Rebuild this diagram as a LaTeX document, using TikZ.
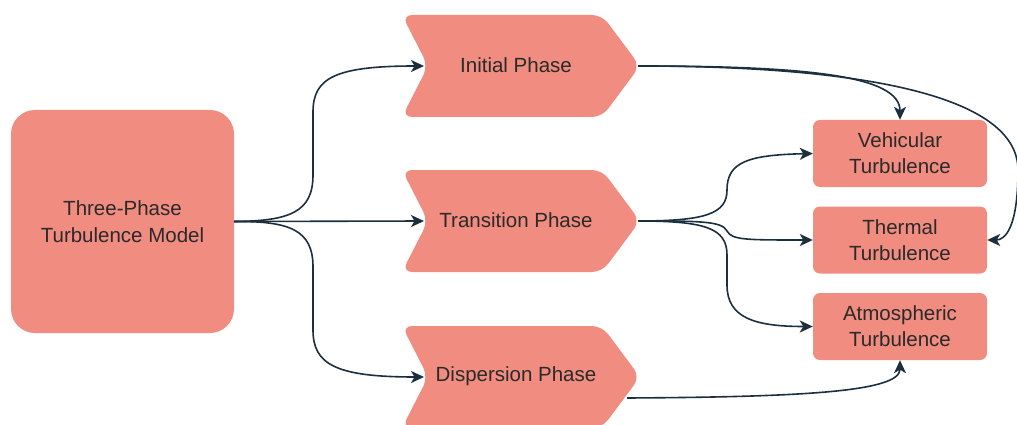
\documentclass[tikz,border=0pt]{standalone}
\usepackage{fontspec}
\setmainfont{Liberation Sans}
\usetikzlibrary{arrows.meta}
\definecolor{fillc}{HTML}{F08C80}
\definecolor{linec}{HTML}{1B2F3F}
\definecolor{textc}{HTML}{2A2A2A}
\tikzset{
  phase/.style={fill=fillc, draw=none, rounded corners=10pt},
  ptext/.style={text=textc, font=\fontsize{20.5}{26}\selectfont, inner sep=0pt},
  tbox/.style={fill=fillc, draw=none, rounded corners=7pt, minimum width=174pt, minimum height=67pt, align=center, text=textc, font=\fontsize{20.5}{26}\selectfont, inner sep=0pt},
  mbox/.style={fill=fillc, draw=none, rounded corners=24pt, minimum width=223pt, minimum height=223pt, align=center, text=textc, font=\fontsize{20.5}{27}\selectfont, inner sep=0pt},
  conn/.style={draw=linec, line width=1.6pt, -{Stealth[length=13pt,width=12pt,inset=3.5pt]}},
}
\begin{document}
\begin{tikzpicture}[x=1pt,y=-1pt]
\useasboundingbox (0,0) rectangle (1017,425);
% main box
\node[mbox] (main) at (122.5,221.5) {Three-Phase\\Turbulence Model};
% chevrons
\path[phase] (402,15) -- (602,15) -- (640,66) -- (602,117) -- (402,117) -- (428,66) -- cycle;
\path[phase] (402,170) -- (602,170) -- (640,221) -- (602,272) -- (402,272) -- (428,221) -- cycle;
\path[phase] (402,326) -- (602,326) -- (640,377) -- (602,428) -- (402,428) -- (428,377) -- cycle;
\node[ptext] (init) at (516,65) {Initial Phase};
\node[ptext] (trans) at (516,220) {Transition Phase};
\node[ptext] (disp) at (516,376) {Dispersion Phase};
\coordinate (initIn) at (424,66);
\coordinate (transIn) at (424,221);
\coordinate (dispIn) at (424,377);
\coordinate (initOut) at (638,66);
\coordinate (transOut) at (638,221);
\coordinate (dispOut) at (627,398);
% right boxes
\node[tbox] (veh) at (900,153.5) {Vehicular\\Turbulence};
\node[tbox] (therm) at (900,240) {Thermal\\Turbulence};
\node[tbox] (atm) at (900,326.5) {Atmospheric\\Turbulence};
% connectors
\draw[conn] (main.east) .. controls (290,221) and (313,212) .. (313,175) -- (313,112) .. controls (313,78) and (335,66) .. (initIn);
\draw[conn] (main.east) -- (transIn);
\draw[conn] (main.east) .. controls (290,221) and (313,230) .. (313,267) -- (313,330) .. controls (313,364) and (335,377) .. (dispIn);
\draw[conn] (initOut) .. controls (810,66) and (900,76) .. (veh.north);
\draw[conn] (initOut) .. controls (860,66) and (1018,95) .. (1018,170) .. controls (1018,228) and (1005,240) .. (therm.east);
\draw[conn] (transOut) .. controls (705,221) and (727,214) .. (727,190) .. controls (727,162) and (748,155) .. (veh.west);
\draw[conn] (transOut) .. controls (700,221) and (722,221) .. (727,231) .. controls (732,240) and (745,240) .. (therm.west);
\draw[conn] (transOut) .. controls (705,221) and (727,228) .. (727,255) -- (727,285) .. controls (727,318) and (755,326.5) .. (atm.west);
\draw[conn] (dispOut) .. controls (800,397) and (900,392) .. (atm.south);
\end{tikzpicture}
\end{document}
